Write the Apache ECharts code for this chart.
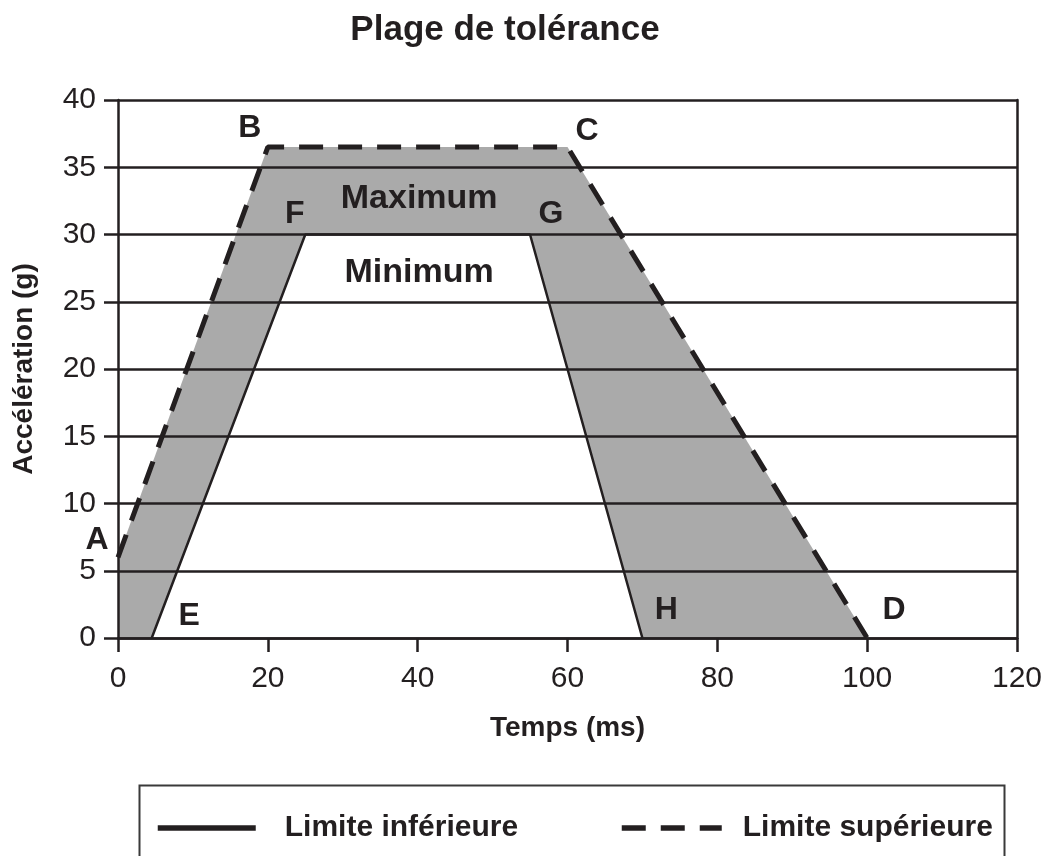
<!DOCTYPE html>
<html>
<head>
<meta charset="utf-8">
<script src="https://cdn.jsdelivr.net/npm/echarts@6/dist/echarts.min.js"></script>
<style>
  html, body { margin: 0; padding: 0; background: #fff; }
  #main { width: 1045px; height: 856px; }
</style>
</head>
<body>
<div id="main"></div>
<script>
// limite supérieure : A - B - C - D
const upperLimit = [[0, 6], [20, 36.5], [60, 36.5], [100, 0]];
// limite inférieure : E - F - G - H
const lowerLimit = [[4.5, 0], [25, 30], [55, 30], [70, 0]];
// étiquettes des points et des zones
const pointLabels = [
  [-2.8, 7.3, 'A'], [17.6, 37.9, 'B'], [62.6, 37.7, 'C'], [103.6, 2.1, 'D'],
  [9.5, 1.6, 'E'], [23.6, 31.5, 'F'], [57.8, 31.5, 'G'], [73.2, 2.1, 'H']
];
const zoneLabels = [[40.2, 32.7, 'Maximum'], [40.2, 27.2, 'Minimum']];
const xTicks = [0, 20, 40, 60, 80, 100, 120];
const yTicks = [0, 5, 10, 15, 20, 25, 30, 35, 40];

const ink = '#231f20';
const font = "'Liberation Sans', Arial, sans-serif";
const dash = [24, 15];

const chart = echarts.init(document.getElementById('main'));

const labelSeries = (name, data, size) => ({
  name: name,
  type: 'scatter',
  data: data,
  symbolSize: 0,
  clip: false,
  z: 6,
  silent: true,
  itemStyle: { opacity: 1 },
  label: {
    show: true, position: 'inside',
    formatter: p => p.data[2],
    fontFamily: font, fontSize: size, fontWeight: 'bold', color: ink, opacity: 1
  }
});

chart.setOption({
  backgroundColor: '#fff',
  animation: false,
  title: {
    text: 'Plage de tolérance',
    left: 500,
    textAlign: 'center',
    top: 8,
    textStyle: { fontFamily: font, fontSize: 35, fontWeight: 'bold', color: ink }
  },
  grid: { left: 118, right: 28, top: 100, bottom: 218 },
  legend: [
    {
      data: ['Limite inférieure'],
      left: 150, top: 808,
      itemWidth: 98, itemHeight: 36,
      lineStyle: { width: 5.5 },
      itemStyle: { opacity: 0 },
      textStyle: { fontFamily: font, fontSize: 30, fontWeight: 'bold', color: ink, padding: [0, 0, 0, 24] }
    },
    {
      data: ['Limite supérieure'],
      left: 614, top: 808,
      itemWidth: 100, itemHeight: 36,
      lineStyle: { width: 5.5 },
      itemStyle: { opacity: 0 },
      textStyle: { fontFamily: font, fontSize: 30, fontWeight: 'bold', color: ink, padding: [0, 0, 0, 16] }
    }
  ],
  graphic: [{
    type: 'rect',
    left: 137, top: 783,
    shape: { width: 865, height: 110 },
    style: { fill: 'none', stroke: '#3a3a3a', lineWidth: 2 }
  }],
  xAxis: {
    type: 'value',
    min: 0, max: 120, interval: 20,
    z: 5,
    name: 'Temps (ms)',
    nameLocation: 'middle',
    nameGap: 76,
    nameTextStyle: { fontFamily: font, fontSize: 28, fontWeight: 'bold', color: ink },
    axisLine: { lineStyle: { color: ink, width: 2.5 } },
    axisTick: { show: true, length: 14, lineStyle: { color: ink, width: 2.5 } },
    axisLabel: {
      margin: 26, fontFamily: font, fontSize: 30, color: ink,
      formatter: v => xTicks.includes(v) ? String(v) : ''
    },
    splitLine: { show: false }
  },
  yAxis: [
    {
      type: 'value',
      min: 0, max: 40, interval: 5,
      z: 5,
      name: 'Accélération (g)',
      nameLocation: 'middle',
      nameGap: 80,
      nameTextStyle: { fontFamily: font, fontSize: 28, fontWeight: 'bold', color: ink },
      axisLine: { show: true, lineStyle: { color: ink, width: 2.5 } },
      axisTick: { show: true, length: 14, lineStyle: { color: ink, width: 2.5 } },
      axisLabel: {
        margin: 22, fontFamily: font, fontSize: 30, color: ink,
        formatter: v => yTicks.includes(v) ? String(v) : ''
      },
      splitLine: { show: true, lineStyle: { color: ink, width: 2.5 } }
    },
    {
      type: 'value',
      min: 0, max: 40, interval: 5,
      position: 'right',
      z: 5,
      axisLine: { show: true, lineStyle: { color: ink, width: 2.5 } },
      axisTick: { show: false },
      axisLabel: { show: false },
      splitLine: { show: false }
    }
  ],
  series: [
    {
      name: 'Limite supérieure',
      type: 'line',
      data: upperLimit,
      symbol: 'none',
      z: 2,
      color: ink,
      lineStyle: { color: ink, width: 5, type: dash },
      areaStyle: { color: '#aaaaaa', opacity: 1, origin: 0 }
    },
    {
      name: 'Limite inférieure',
      type: 'line',
      data: lowerLimit,
      symbol: 'none',
      z: 3,
      color: ink,
      lineStyle: { color: ink, width: 2.5 },
      areaStyle: { color: '#ffffff', opacity: 1, origin: 0 }
    },
    labelSeries('points', pointLabels, 32),
    labelSeries('zones', zoneLabels, 34)
  ]
});
</script>
</body>
</html>
